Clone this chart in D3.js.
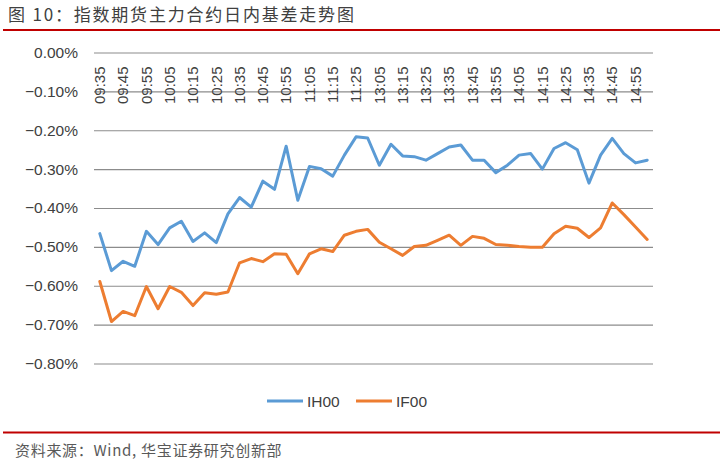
<!DOCTYPE html>
<html>
<head>
<meta charset="utf-8">
<script src="https://cdn.jsdelivr.net/npm/d3@7"></script>
<style>
  html, body { margin: 0; padding: 0; background: #fff; }
  svg { display: block; }
</style>
</head>
<body>
<svg id="chart" width="726" height="464"></svg>
<script>
const titleText = "图 10：指数期货主力合约日内基差走势图";
const sourceText = "资料来源：Wind, 华宝证券研究创新部";
const times = ["09:35","09:40","09:45","09:50","09:55","10:00","10:05","10:10","10:15","10:20","10:25","10:30",
  "10:35","10:40","10:45","10:50","10:55","11:00","11:05","11:10","11:15","11:20","11:25","11:30",
  "13:05","13:10","13:15","13:20","13:25","13:30","13:35","13:40","13:45","13:50","13:55","14:00",
  "14:05","14:10","14:15","14:20","14:25","14:30","14:35","14:40","14:45","14:50","14:55","15:00"];
const seriesNames = ["IH00", "IF00"];
const ih00 = [-0.466,-0.561,-0.537,-0.550,-0.460,-0.494,-0.451,-0.434,-0.486,-0.464,-0.489,-0.415,
  -0.373,-0.398,-0.331,-0.352,-0.241,-0.380,-0.293,-0.299,-0.318,-0.264,-0.217,-0.220,
  -0.290,-0.236,-0.266,-0.268,-0.277,-0.260,-0.243,-0.238,-0.277,-0.277,-0.309,-0.290,
  -0.264,-0.260,-0.300,-0.247,-0.232,-0.250,-0.336,-0.264,-0.221,-0.260,-0.284,-0.277];
const if00 = [-0.589,-0.692,-0.666,-0.677,-0.602,-0.659,-0.602,-0.617,-0.651,-0.618,-0.622,-0.616,
  -0.541,-0.530,-0.538,-0.518,-0.519,-0.569,-0.518,-0.505,-0.512,-0.470,-0.460,-0.455,
  -0.488,-0.505,-0.522,-0.499,-0.496,-0.483,-0.470,-0.496,-0.473,-0.478,-0.494,-0.496,
  -0.499,-0.501,-0.501,-0.466,-0.447,-0.452,-0.476,-0.451,-0.387,-0.417,-0.449,-0.481];
const yTicks = [0, -0.1, -0.2, -0.3, -0.4, -0.5, -0.6, -0.7, -0.8];
const xTickLabels = times.filter((t, i) => i % 2 === 0);

const colors = ["#5B9BD5", "#ED7D31"];
const latin = "'Liberation Sans', Arial, 'Noto Sans CJK SC', sans-serif";
const cjk = "'Noto Sans CJK SC', 'Liberation Sans', sans-serif";

const svg = d3.select("#chart");
const plot = { left: 94, right: 653, top: 52.5, bottom: 363.5 };

const x = d3.scaleBand().domain(times).range([plot.left, plot.right]);
const y = d3.scaleLinear().domain([-0.8, 0]).range([plot.bottom, plot.top]);
const cx = t => x(t) + x.bandwidth() / 2;

// Title
svg.append("text").attr("x", 8).attr("y", 21)
  .attr("font-family", cjk).attr("font-size", 17).attr("fill", "#404040")
  .attr("letter-spacing", 1.8)
  .text(titleText);

// Red rules
svg.append("line").attr("x1", 3).attr("x2", 720).attr("y1", 30).attr("y2", 30)
  .attr("stroke", "#C00000").attr("stroke-width", 2.2);
svg.append("line").attr("x1", 3).attr("x2", 720).attr("y1", 432.5).attr("y2", 432.5)
  .attr("stroke", "#C00000").attr("stroke-width", 2.2);

// Y axis with gridlines
const yAxis = d3.axisLeft(y).tickValues(yTicks)
  .tickSize(-(plot.right - plot.left)).tickPadding(16)
  .tickFormat(d => d3.format(".2f")(d === 0 ? 0 : d) + "%");
const gy = svg.append("g").attr("transform", `translate(${plot.left},0)`).call(yAxis);
gy.select(".domain").remove();
gy.selectAll(".tick line").attr("stroke", "#8c8c8c").attr("stroke-width", 1.1);
gy.selectAll(".tick text").attr("font-family", latin).attr("font-size", 15.5).attr("fill", "#404040");

// X labels (category axis at value 0)
const xAxis = d3.axisBottom(x).tickValues(xTickLabels).tickSize(0).tickPadding(0);
const gx = svg.append("g").attr("transform", `translate(0,${y(0)})`).call(xAxis);
gx.select(".domain").remove();
gx.selectAll(".tick text")
  .attr("font-family", latin).attr("font-size", 15).attr("fill", "#404040")
  .attr("text-anchor", "end")
  .attr("transform", "rotate(-90)")
  .attr("x", -14).attr("y", 0).attr("dy", "0.35em");

// Lines
const line = d3.line().x((d, i) => cx(times[i])).y(d => y(d));
[ih00, if00].forEach((s, k) => {
  svg.append("path").datum(s).attr("d", line)
    .attr("fill", "none").attr("stroke", colors[k]).attr("stroke-width", 3)
    .attr("stroke-linejoin", "round").attr("stroke-linecap", "round");
});

// Legend
const legendItems = [{x: 267, name: seriesNames[0], c: colors[0]}, {x: 356, name: seriesNames[1], c: colors[1]}];
legendItems.forEach(it => {
  svg.append("line").attr("x1", it.x).attr("x2", it.x + 36).attr("y1", 401).attr("y2", 401)
    .attr("stroke", it.c).attr("stroke-width", 3);
  svg.append("text").attr("x", it.x + 40).attr("y", 406.5)
    .attr("font-family", latin).attr("font-size", 15.5).attr("fill", "#404040").text(it.name);
});

// Source
svg.append("text").attr("x", 15).attr("y", 456)
  .attr("font-family", cjk).attr("font-size", 15).attr("fill", "#595959")
  .attr("letter-spacing", 0.7)
  .text(sourceText);
</script>
</body>
</html>
